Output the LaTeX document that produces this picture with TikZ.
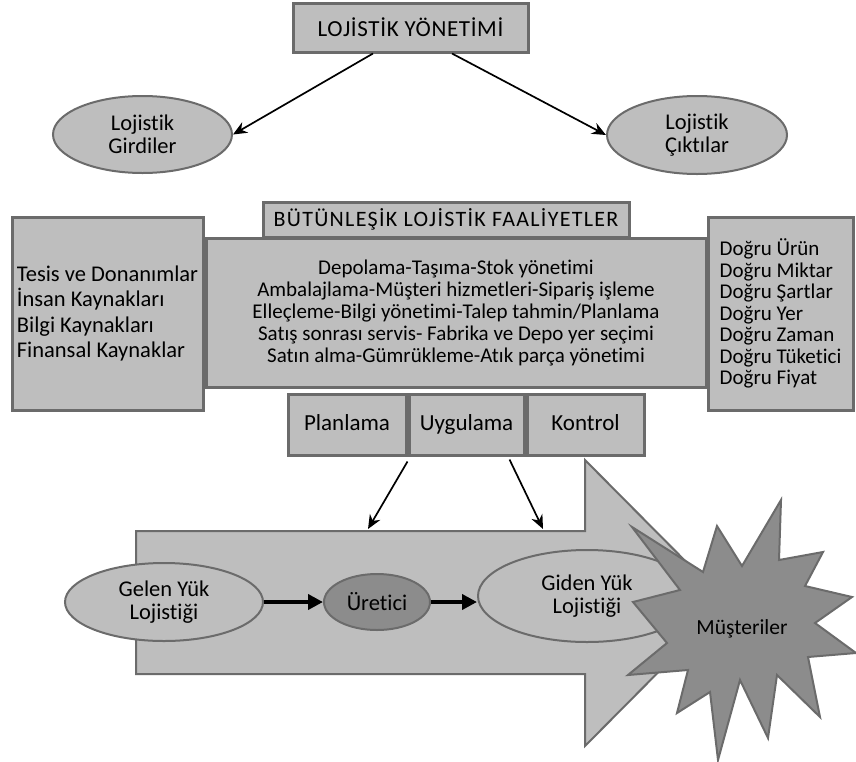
\documentclass[tikz,border=0pt]{standalone}
\usepackage{fontspec}
\setmainfont{Carlito}[Ligatures=NoCommon]
\usetikzlibrary{arrows.meta,positioning,shapes.geometric}
\definecolor{kutu}{HTML}{BEBEBE}
\definecolor{koyu}{HTML}{8C8C8C}
\definecolor{cizgi}{HTML}{6B6B6B}

\begin{document}
\begin{tikzpicture}[x=1pt,y=-1pt,
  box/.style={draw=cizgi, line width=3pt, fill=kutu, inner sep=0pt},
  hucre/.style={box, minimum height=61, text height=15pt, text depth=4pt, font=\fontsize{23}{25}\selectfont},
  oval/.style={ellipse, draw=cizgi, line width=2pt, fill=kutu, inner sep=0pt, align=center, font=\fontsize{22.5}{23.5}\selectfont},
  ok/.style={-{Stealth[length=14pt,width=12pt]}, line width=1.7pt},
  kalin/.style={-{Triangle[length=15pt,width=15pt]}, line width=4pt}]
\useasboundingbox (0,0) rectangle (856,761);

% ust kisim
\node[box, minimum width=235, minimum height=49, font=\fontsize{23}{25}\selectfont\addfontfeatures{LetterSpace=2.8}] (yon) at (410.5,27.5) {LOJİSTİK YÖNETİMİ};
\node[oval, minimum width=179, minimum height=77] (girdi) at (142.5,134.5) {Lojistik\\Girdiler};
\node[oval, minimum width=180, minimum height=78] (cikti) at (697,135) {Lojistik\\Çıktılar};
\draw[ok] ([xshift=-37.5pt]yon.south) -- (girdi.east);
\draw[ok] ([xshift=41.5pt]yon.south) -- (cikti.west);

% faaliyetler
\node[box, minimum width=366, minimum height=35, font=\fontsize{22}{24}\selectfont\addfontfeatures{LetterSpace=5.9}] (baslik) at (446,219.5) {BÜTÜNLEŞİK LOJİSTİK FAALİYETLER};
\node[box, minimum width=500, minimum height=149, align=center, font=\fontsize{21}{22}\selectfont] (faal) at (456,312.5)
  {Depolama-Taşıma-Stok yönetimi\\
   Ambalajlama-Müşteri hizmetleri-Sipariş işleme\\
   Elleçleme-Bilgi yönetimi-Talep tahmin/Planlama\\
   Satış sonrası servis- Fabrika ve Depo yer seçimi\\
   Satın alma-Gümrükleme-Atık parça yönetimi};
\node[box, minimum width=191, minimum height=193, align=left, font=\fontsize{22.5}{25.5}\selectfont] (kaynak) at (107.5,313.5)
  {Tesis ve Donanımlar\\İnsan Kaynakları\\Bilgi Kaynakları\\Finansal Kaynaklar};
\node[box, minimum width=145, minimum height=193, align=left, font=\fontsize{21}{21.5}\selectfont] (dogru) at (780.5,313.5)
  {Doğru Ürün\\Doğru Miktar\\Doğru Şartlar\\Doğru Yer\\Doğru Zaman\\Doğru Tüketici\\Doğru Fiyat};

\node[hucre, minimum width=118] (plan) at (347,424.5) {Planlama};
\node[hucre, minimum width=115, right=0pt of plan] (uyg) {Uygulama};
\node[hucre, minimum width=117, right=0pt of uyg] (kont) {Kontrol};

% buyuk ok
\draw[draw=cizgi, line width=2pt, fill=kutu] (136,531) -- (585,531) -- (585,460) -- (727,603)
  -- (585,746) -- (585,674) -- (136,674) -- cycle;

\node[oval, minimum width=198, minimum height=78] (gelen) at (164,602) {Gelen Yük\\Lojistiği};
\node[oval, fill=koyu, minimum width=106, minimum height=56] (uret) at (377,602) {Üretici};
\node[oval, minimum width=218, minimum height=92] (giden) at (587,596) {Giden Yük\\Lojistiği};

% yildiz
\draw[draw=cizgi, line width=2pt, fill=koyu] (781,500) -- (779,560) -- (823,552) -- (805,586) -- (852,597)
  -- (815,623) -- (856,653) -- (808,657) -- (820,717) -- (777,675) -- (768,738) -- (740,680)
  -- (718,760) -- (710,692) -- (677,713) -- (688,670) -- (628,675) -- (667,643) -- (633,602)
  -- (680,590) -- (632,527) -- (703,572) -- (717,526) -- (742,566) -- cycle;
\node[font=\fontsize{21.5}{23}\selectfont] (mus) at (742,629) {Müşteriler};

\draw[kalin] (gelen) -- (uret);
\draw[kalin] (uret.east) -- (uret.east -| giden.west);

\coordinate (u1) at (368,529);
\coordinate (u2) at (543,529);
\draw[ok] ([yshift=-5pt]uyg.south west) -- (u1);
\draw[ok] ([xshift=-16pt,yshift=-3pt]uyg.south east) -- (u2);
\end{tikzpicture}
\end{document}
